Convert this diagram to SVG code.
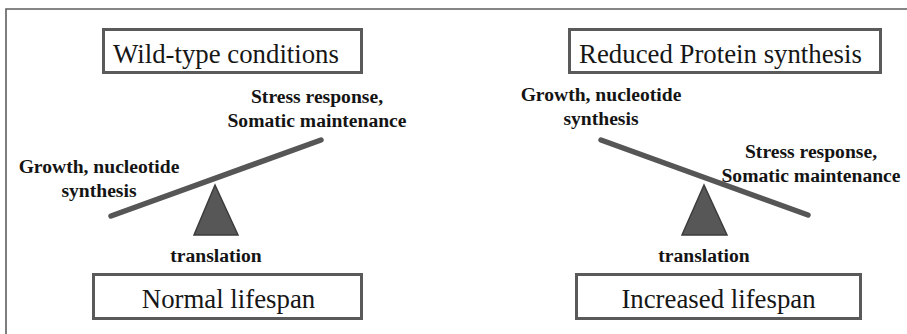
<svg xmlns="http://www.w3.org/2000/svg" width="907" height="334" viewBox="0 0 907 334">
  <style>
    .frame { fill: none; stroke: #5e5e5e; stroke-width: 1.6; }
    .box { fill: #ffffff; stroke: #5a5a5a; stroke-width: 3; }
    .boxtext { font-family: "Liberation Serif", "DejaVu Serif", serif; font-size: 26.8px; fill: #161616; text-anchor: middle; }
    .label { font-family: "Liberation Serif", "DejaVu Serif", serif; font-size: 19.6px; font-weight: bold; fill: #141414; text-anchor: middle; }
    .beam { stroke: #565656; stroke-width: 5.5; stroke-linecap: round; fill: none; }
    .fulcrum { fill: #575757; stroke: #3c3c3c; stroke-width: 1.5; stroke-linejoin: miter; }
  </style>
  <rect width="907" height="334" fill="#ffffff"/>
  <!-- frame edges (top and left) -->
  <path class="frame" d="M6 334 V9 H907"/>

  <!-- left panel: wild type -->
  <g id="wildtype-box">
    <rect class="box" x="103.5" y="29.5" width="258" height="43"/>
    <text class="boxtext" x="226" y="63">Wild-type conditions</text>
  </g>
  <g id="wildtype-stress">
    <text class="label" x="317" y="103">Stress response,</text>
    <text class="label" x="317" y="127">Somatic maintenance</text>
  </g>
  <g id="wildtype-growth">
    <text class="label" x="99" y="173">Growth, nucleotide</text>
    <text class="label" x="99" y="197">synthesis</text>
  </g>
  <g id="wildtype-seesaw">
    <polygon class="fulcrum" points="215,185 238,235 194,235"/>
  </g>
  <g id="wildtype-translation">
    <text class="label" x="216" y="262">translation</text>
  </g>
  <g id="normal-lifespan">
    <rect class="box" x="93.5" y="274.5" width="268" height="44"/>
    <text class="boxtext" x="228.5" y="308">Normal lifespan</text>
  </g>

  <!-- right panel: reduced protein synthesis -->
  <g id="reduced-box">
    <rect class="box" x="569.5" y="29.5" width="311" height="43"/>
    <text class="boxtext" x="720.5" y="63">Reduced Protein synthesis</text>
  </g>
  <g id="reduced-growth">
    <text class="label" x="601" y="101">Growth, nucleotide</text>
    <text class="label" x="601" y="125">synthesis</text>
  </g>
  <g id="reduced-stress">
    <text class="label" x="811" y="158">Stress response,</text>
    <text class="label" x="811" y="182">Somatic maintenance</text>
  </g>
  <g id="reduced-seesaw">
    <polygon class="fulcrum" points="704,185 727,235 682,235"/>
  </g>
  <g id="reduced-translation">
    <text class="label" x="704" y="262">translation</text>
  </g>
  <g id="increased-lifespan">
    <rect class="box" x="576.5" y="274.5" width="284" height="44"/>
    <text class="boxtext" x="718.5" y="308">Increased lifespan</text>
  </g>

  <!-- balance beams resting on the fulcrums -->
  <g id="beams">
    <line class="beam" x1="111" y1="216" x2="321" y2="140"/>
    <line class="beam" x1="601" y1="140" x2="808" y2="215"/>
  </g>
</svg>
